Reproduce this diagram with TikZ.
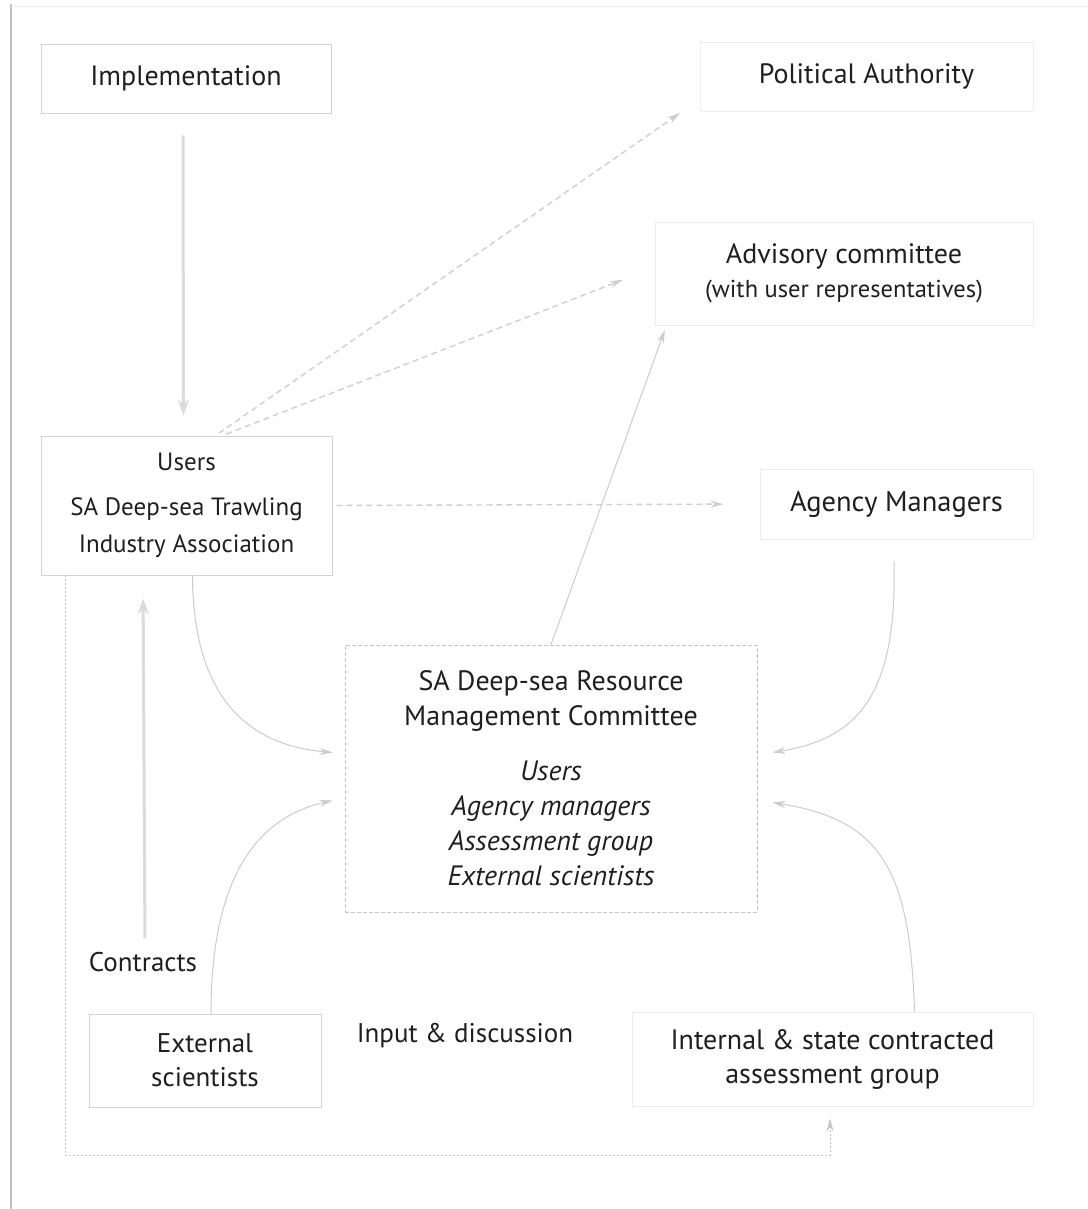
\documentclass[tikz,border=0pt]{standalone}
\usepackage{fontspec}
\setmainfont{PT Sans}
\usetikzlibrary{arrows.meta,calc}
\begin{document}
\begin{tikzpicture}[x=1pt,y=-1pt,
  box/.style={draw=gray!35, line width=0.9pt, inner sep=0pt, align=center, text=black!88},
  faintbox/.style={box, draw=gray!14},
  dashbox/.style={box, draw=gray!45, dash pattern=on 4pt off 2pt},
  txt/.style={font=\fontsize{28}{36}\selectfont},
  lbl/.style={inner sep=0pt, text=black!88, font=\fontsize{27}{36}\selectfont},
  arr/.style={draw=gray!40, line width=1pt, -{Stealth[length=13pt,width=7pt]}},
  bigarr/.style={draw=gray!28, line width=3pt, -{Stealth[length=16pt,width=11pt]}},
  dasharr/.style={arr, draw=gray!38, line width=1.4pt, dash pattern=on 6pt off 4pt},
  dotarr/.style={arr, draw=gray!45, line width=0.9pt, dash pattern=on 2pt off 2pt}
]
\useasboundingbox (0,0) rectangle (1087,1209);
\fill[white] (0,0) rectangle (1087,1209);
% frame
\draw[gray!50, line width=1.2pt] (11,4) -- (11,1209);
\draw[gray!15, line width=0.9pt] (11,6) -- (1087,6);

% boxes
\node[box, minimum width=290pt, minimum height=69pt, txt] (impl) at (186,78.5) {Implementation};
\node[faintbox, minimum width=333pt, minimum height=69pt, txt] (pol) at (866.5,76.5) {Political Authority};
\node[faintbox, minimum width=378pt, minimum height=103pt, font=\fontsize{28}{34}\selectfont] (adv) at (844,273.5)
  {Advisory committee\\{\fontsize{24.5}{34}\selectfont (with user representatives)}};
\node[box, minimum width=291pt, minimum height=139pt, font=\fontsize{25}{37}\selectfont] (users) at (186.5,505.5)
  {Users\\[8pt]SA Deep-sea Trawling\\Industry Association};
\node[faintbox, minimum width=273pt, minimum height=70pt, font=\fontsize{28.5}{36}\selectfont] (agency) at (896.5,504) {Agency Managers};
\node[dashbox, minimum width=412pt, minimum height=267pt, font=\fontsize{28}{35}\selectfont] (comm) at (551,778.5)
  {SA Deep-sea Resource\\Management Committee\\[20pt]\textit{Users}\\\textit{Agency managers}\\\textit{Assessment group}\\\textit{External scientists}};
\node[box, minimum width=232pt, minimum height=93pt, font=\fontsize{27}{34}\selectfont] (ext) at (205,1060.5)
  {External\\scientists};
\node[faintbox, minimum width=401pt, minimum height=94pt, font=\fontsize{28}{34}\selectfont] (intl) at (832.5,1059)
  {Internal \& state contracted\\assessment group};

% labels
\node[lbl] (contracts) at (143,962) {Contracts};
\node[lbl] (input) at (465,1036) {Input \& discussion};

% coordinates for free ends
\coordinate (pa) at (680,113);
\coordinate (bl) at (65,1155);
\coordinate (br) at (830,1155);

% connectors
\draw[bigarr, shorten <=22pt, shorten >=20pt] ($(impl.south)+(-3,0)$) -- ($(users.north)+(-3,0)$);
\draw[dasharr, shorten <=4pt] ($(users.north)+(29,0)$) -- (pa);
\draw[dasharr, shorten <=4pt, shorten >=34pt] ($(users.north)+(36,0)$) -- ($(adv.west)+(0,-6)$);
\draw[dasharr, shorten <=4pt, shorten >=36pt] (users.east) -- (agency.west);
\draw[arr, shorten >=5pt] (comm.north) -- ($(adv.south west)+(12,0)$);
\draw[arr] ($(users.south)+(6,0)$) .. controls (193,700) and (250,745) .. ($(comm.west)+(-12,-26)$);
\draw[arr] ($(ext.north)+(6,0)$) .. controls (211,880) and (255,818) .. ($(comm.west)+(-12,22)$);
\draw[arr, shorten <=22pt] ($(agency.south)+(-3,0)$) .. controls (897,690) and (862,738) .. ($(comm.east)+(15,-26)$);
\draw[arr] ($(intl.north)+(82,0)$) .. controls (910,870) and (882,820) .. ($(comm.east)+(15,24)$);
\draw[bigarr, shorten <=14pt, shorten >=23pt] ($(contracts.north)+(2,0)$) -- (users.south -| contracts);
\draw[dotarr, shorten >=12pt] (users.south west -| bl) -- (bl) -- (br) -- (intl.south -| br);
\end{tikzpicture}
\end{document}
